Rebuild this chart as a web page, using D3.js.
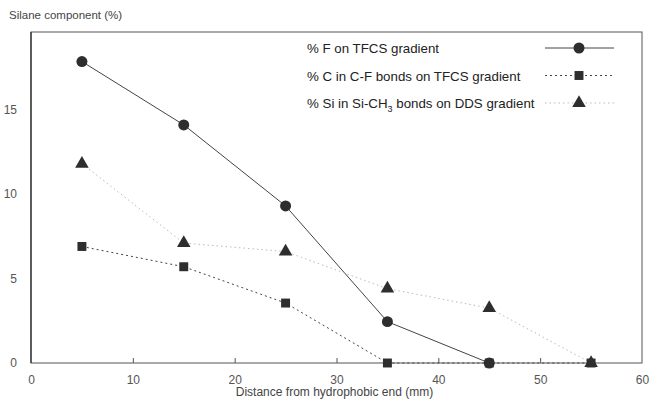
<!DOCTYPE html>
<html>
<head>
<meta charset="utf-8">
<script src="https://cdn.jsdelivr.net/npm/d3@7"></script>
<style>
  body { margin: 0; background: #fff; }
  text { font-family: "Liberation Sans", Arial, sans-serif; }
</style>
</head>
<body>
<div class="canvas"></div>
<script>
// data
const distance = [5, 15, 25, 35, 45, 55];
const fTFCS = [17.85, 14.1, 9.3, 2.45, 0];          // % F on TFCS gradient
const cTFCS = [6.9, 5.7, 3.55, 0, 0, 0];            // % C in C-F bonds
const siDDS = [11.8, 7.1, 6.6, 4.4, 3.25, 0];       // % Si in Si-CH3 bonds
const xTicks = [0, 10, 20, 30, 40, 50, 60];
const yTicks = [0, 5, 10, 15];

//1. dimensions
const width = 650, height = 401;
const margin = {top: 32, right: 8, bottom: 38, left: 31};
const graphWidth = width - margin.left - margin.right;
const graphHeight = height - margin.top - margin.bottom;

//2. svg
const canvas = d3.select('.canvas')
    .append('svg')
    .attr('width', width)
    .attr('height', height);

const graph = canvas.append('g')
    .attr('transform', `translate(${margin.left},${margin.top})`);

//3. scales
const xScale = d3.scaleLinear().domain([0, 60]).range([0, graphWidth]);
const yScale = d3.scaleLinear().domain([0, 19.6]).range([graphHeight, 0]);

// frame
graph.append('rect')
    .attr('width', graphWidth)
    .attr('height', graphHeight)
    .attr('fill', 'none')
    .attr('stroke', '#555')
    .attr('stroke-width', 1);
graph.append('line')
    .attr('x1', 0).attr('x2', 0)
    .attr('y1', 0).attr('y2', graphHeight)
    .attr('stroke', '#333').attr('stroke-width', 1.3);

//4. axes
const xAxis = d3.axisBottom(xScale).tickValues(xTicks).tickSize(-5).tickPadding(12);
const yAxis = d3.axisLeft(yScale).tickValues(yTicks).tickSize(0).tickPadding(14);

const xAxisGroup = graph.append('g')
    .attr('transform', `translate(0, ${graphHeight})`)
    .call(xAxis);
xAxisGroup.select('.domain').remove();
xAxisGroup.selectAll('.tick line')
    .attr('stroke', '#555')
    .filter(d => d === 0 || d === 60).remove();

const yAxisGroup = graph.append('g').call(yAxis);
yAxisGroup.select('.domain').remove();

graph.selectAll('.tick text')
    .attr('fill', '#555')
    .attr('font-size', 12)
    .attr('font-family', '"Liberation Sans", Arial, sans-serif');

// axis titles
canvas.append('text')
    .attr('x', 9).attr('y', 19)
    .attr('font-size', 11.5).attr('fill', '#444')
    .text('Silane component (%)');
canvas.append('text')
    .attr('x', margin.left + xScale(30) - 2).attr('y', 396)
    .attr('text-anchor', 'middle')
    .attr('font-size', 12).attr('fill', '#444')
    .text('Distance from hydrophobic end (mm)');

//5. series
const series = [
    {name: 'f', values: fTFCS, stroke: '#444', width: 1, dash: null, shape: 'circle'},
    {name: 'c', values: cTFCS, stroke: '#444', width: 1, dash: '2,3', shape: 'square'},
    {name: 'si', values: siDDS, stroke: '#bbb', width: 1, dash: '1.5,3', shape: 'triangle'}
];

const line = d3.line()
    .x(d => xScale(d.x))
    .y(d => yScale(d.y));

const symbolFor = shape => {
    if (shape === 'circle') return d3.symbol().type(d3.symbolCircle).size(95)();
    if (shape === 'square') return d3.symbol().type(d3.symbolSquare).size(80)();
    return d3.symbol().type(d3.symbolTriangle).size(80)();
};

series.forEach(s => {
    const pts = s.values.map((v, i) => ({x: distance[i], y: v}));
    graph.append('path')
        .datum(pts)
        .attr('d', line)
        .attr('fill', 'none')
        .attr('stroke', s.stroke)
        .attr('stroke-width', s.width)
        .attr('stroke-dasharray', s.dash);
});

series.forEach(s => {
    const pts = s.values.map((v, i) => ({x: distance[i], y: v}));
    graph.selectAll(`.m-${s.name}`)
        .data(pts)
        .enter()
        .append('path')
            .attr('class', `m-${s.name}`)
            .attr('d', symbolFor(s.shape))
            .attr('transform', d => `translate(${xScale(d.x)},${yScale(d.y)})`)
            .attr('fill', '#2e2e2e');
});

//6. legend
const legendLabels = [
    '% F on TFCS gradient',
    '% C in C-F bonds on TFCS gradient',
    null
];
const legend = canvas.append('g').attr('transform', 'translate(307, 53)');
series.forEach((s, i) => {
    const row = legend.append('g').attr('transform', `translate(0, ${i * 27.5})`);
    const t = row.append('text')
        .attr('x', 0).attr('y', 0)
        .attr('font-size', 13.3).attr('fill', '#222');
    if (legendLabels[i]) {
        t.text(legendLabels[i]);
    } else {
        t.append('tspan').text('% Si in Si-CH');
        t.append('tspan').attr('font-size', 9).attr('dy', 4).text('3');
        t.append('tspan').attr('dy', -4).text(' bonds on DDS gradient');
    }
    row.append('line')
        .attr('x1', 238).attr('x2', 307)
        .attr('y1', -5).attr('y2', -5)
        .attr('stroke', s.stroke)
        .attr('stroke-width', s.width)
        .attr('stroke-dasharray', s.dash);
    row.append('path')
        .attr('d', symbolFor(s.shape))
        .attr('transform', 'translate(272,-5)')
        .attr('fill', '#2e2e2e');
});
</script>
</body>
</html>
